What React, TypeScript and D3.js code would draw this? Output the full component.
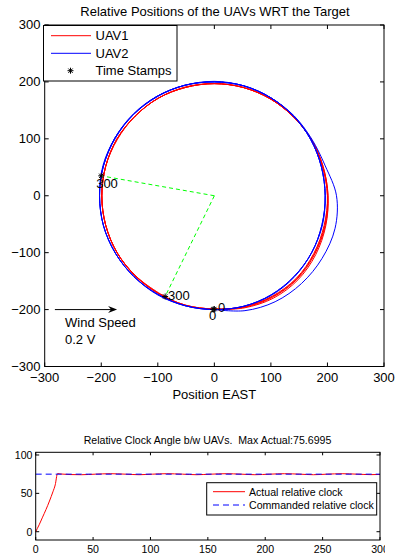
import { useEffect, useRef } from "react";
import * as d3 from "d3";

const FONT = "'Liberation Sans', Arial, Helvetica, sans-serif";

// ---- top panel: trajectories as [angle deg, radius] per lap
const ANGLES = [-90,-75,-60,-45,-30,-15,0,15,30,45,60,75,90,105,120,135,150,165,180,195,210,225,240,255];

const UAV1_LAPS = [
  [200,204,208,209,207,204,201,199,198,197,197,197,197,197,198,198,198,199,199,199,199,199,198,199],
  [199,203,206,207,205,203,201,199,198,197,197,197,197,198,198,198,199,199,199,199,199,198,198,199],
  [199,202,205,206,204,202,200,198,198,197,197,197,197,197,198,198,199,199,199,199,199,198,198,199],
  [199,202,204,205,203,201,200,198,198,197,197,197,197,197,198,198,199,199,199,199,199,198,197],
];
const UAV1_END: [number, number] = [243.8, 197];

const UAV2_LAPS = [
  [200,209,215,218,220,221,216,203,199,199,199,200,200,201,201,202,202,203,203,203,202,201,200,200],
  [200,201,201,200,199,197,196,196,197,198,199,200,200,201,202,202,203,203,203,203,202,201,200,200],
  [200,201,202,201,199,198,196,196,197,198,199,200,201,201,202,203,203,204,203,203,202,201,201,200],
  [200,201,201,200,199,197,196,196,197,198,199,200,200,201,202,202,203,203],
];
const UAV2_END: [number, number] = [170.2, 203];

const STAMP_PTS: [number, number][] = [[-2, -199.6], [0, -199], [-87, -177], [-200, 35]];
const STAMP_TEXT = ["0", "0", "300", "300"];
const STAMP_LABEL_PTS: [number, number][] = [[-9.5, -209.6], [6.5, -196.4], [-82, -174.5], [-209, 22]];
const SPOKES: [number, number][] = [[-87, -177], [-200, 35]];

const POS_TICKS = [-300, -200, -100, 0, 100, 200, 300];

// ---- bottom panel
const T_ACTUAL = [0,3,6,9,12,15,17,19,22,30,40,52,65,78,90,102,114,128,140,153,166,179,191,204,217,230,242,254,267,280,292,300];
const ACTUAL   = [0,9,19,29,40,52,61,75.7,75.2,74.5,74.3,75,75.6,75,74.3,75,75.6,75,74.3,75,75.6,75,74.3,75,75.6,75,74.3,75,75.6,75,74.4,74.6];
const T_CMD = [0, 300];
const CMD   = [75, 75];
const T_TICKS = [0, 50, 100, 150, 200, 250, 300];
const CLOCK_TICKS = [0, 50, 100];

const minus = (v: number) => String(v).replace("-", "\u2212");

function asterisk(s: number) {
  const d = s * 0.72;
  return `M${-s},0L${s},0M0,${-s}L0,${s}M${-d},${-d}L${d},${d}M${-d},${d}L${d},${-d}`;
}

function lapsToPoints(laps: number[][], end: [number, number]) {
  const pts: [number, number][] = [];
  laps.forEach((radii, lap) => radii.forEach((r, i) => pts.push([ANGLES[i] + 360 * lap, r])));
  pts.push([end[0] + 360 * (laps.length - 1), end[1]]);
  return pts.map(([a, r]) => [r * Math.cos((a * Math.PI) / 180), r * Math.sin((a * Math.PI) / 180)] as [number, number]);
}

export default function App() {
  const svgRef = useRef<SVGSVGElement>(null);

  useEffect(() => {
    if (!svgRef.current) return;
    const svg = d3.select(svgRef.current);
    svg.selectAll("*").remove();

    // ================= top panel =================
    const x = d3.scaleLinear().domain([-300, 300]).range([44.7, 384]);
    const y = d3.scaleLinear().domain([-300, 300]).range([366.5, 25]);
    const top = svg.append("g");
    const FS = "13px";

    top.append("text").attr("x", 215).attr("y", 16.3).attr("text-anchor", "middle")
      .attr("font-size", FS).attr("font-family", FONT).text("Relative Positions of the UAVs WRT the Target");

    // ticks (inside, mirrored)
    const tk = top.append("g").attr("stroke", "#000").attr("stroke-width", 1);
    POS_TICKS.forEach(v => {
      tk.append("line").attr("x1", x(v)).attr("x2", x(v)).attr("y1", 366.5).attr("y2", 362.5);
      tk.append("line").attr("x1", x(v)).attr("x2", x(v)).attr("y1", 25).attr("y2", 29);
      tk.append("line").attr("y1", y(v)).attr("y2", y(v)).attr("x1", 44.7).attr("x2", 48.7);
      tk.append("line").attr("y1", y(v)).attr("y2", y(v)).attr("x1", 384).attr("x2", 380);
    });
    top.selectAll(".xl").data(POS_TICKS).join("text")
      .attr("x", d => x(d)).attr("y", 382.3).attr("text-anchor", "middle")
      .attr("font-size", FS).attr("font-family", FONT).text(d => minus(d));
    top.selectAll(".yl").data(POS_TICKS).join("text")
      .attr("x", 40.5).attr("y", d => y(d) + 4.4).attr("text-anchor", "end")
      .attr("font-size", FS).attr("font-family", FONT).text(d => minus(d));
    top.append("text").attr("x", 214.3).attr("y", 398.5).attr("text-anchor", "middle")
      .attr("font-size", FS).attr("font-family", FONT).text("Position EAST");

    const plot = top.append("g");
    const line = d3.line<[number, number]>().x(d => x(d[0])).y(d => y(d[1])).curve(d3.curveCatmullRom.alpha(0.5));

    // green spokes
    SPOKES.forEach(p => {
      plot.append("path").attr("d", line([[0, 0], p])).attr("fill", "none")
        .attr("stroke", "#00ff00").attr("stroke-width", 1).attr("stroke-dasharray", "4,3");
    });

    plot.append("path").attr("d", line(lapsToPoints(UAV1_LAPS, UAV1_END))).attr("fill", "none")
      .attr("stroke", "#ff0000").attr("stroke-width", 1);
    plot.append("path").attr("d", line(lapsToPoints(UAV2_LAPS, UAV2_END))).attr("fill", "none")
      .attr("stroke", "#0000ff").attr("stroke-width", 1);

    STAMP_PTS.forEach(p => {
      plot.append("path").attr("d", asterisk(3)).attr("transform", `translate(${x(p[0])},${y(p[1])})`)
        .attr("stroke", "#000").attr("stroke-width", 1).attr("fill", "none");
    });
    STAMP_LABEL_PTS.forEach((p, i) => {
      plot.append("text").attr("x", x(p[0])).attr("y", y(p[1]) + 4.6)
        .attr("font-size", FS).attr("font-family", FONT).attr("fill", "#000").text(STAMP_TEXT[i]);
    });

    // wind arrow
    const ay = y(-200);
    plot.append("line").attr("x1", x(-282)).attr("x2", x(-176)).attr("y1", ay).attr("y2", ay)
      .attr("stroke", "#000").attr("stroke-width", 1);
    const ax = x(-172);
    plot.append("path").attr("d", `M${ax},${ay}L${ax - 9},${ay - 3.5}L${ax - 6},${ay}L${ax - 9},${ay + 3.5}Z`).attr("fill", "#000");
    plot.append("text").attr("x", 65).attr("y", 327.3).attr("font-size", FS).attr("font-family", FONT).text("Wind Speed");
    plot.append("text").attr("x", 65).attr("y", 343.8).attr("font-size", FS).attr("font-family", FONT).text("0.2 V");

    top.append("rect").attr("x", 44.7).attr("y", 25).attr("width", 384 - 44.7).attr("height", 366.5 - 25)
      .attr("fill", "none").attr("stroke", "#000").attr("stroke-width", 1);

    // legend
    const lg = top.append("g");
    lg.append("rect").attr("x", 43.5).attr("y", 25.5).attr("width", 133.5).attr("height", 55.5)
      .attr("fill", "#fff").attr("stroke", "#000").attr("stroke-width", 1);
    lg.append("line").attr("x1", 51).attr("x2", 91).attr("y1", 35.7).attr("y2", 35.7).attr("stroke", "#ff0000");
    lg.append("line").attr("x1", 51).attr("x2", 91).attr("y1", 53.3).attr("y2", 53.3).attr("stroke", "#0000ff");
    lg.append("path").attr("d", asterisk(3)).attr("transform", "translate(70.5,70.7)").attr("stroke", "#000").attr("fill", "none");
    [["UAV1", 35.7], ["UAV2", 53.3], ["Time Stamps", 70.7]].forEach(([t, yy]) => {
      lg.append("text").attr("x", 95.5).attr("y", (yy as number) + 4.6).attr("font-size", FS)
        .attr("font-family", FONT).text(t as string);
    });

    // ================= bottom panel =================
    const xb = d3.scaleLinear().domain([0, 300]).range([35.7, 380]);
    const yb = d3.scaleLinear().domain([-10.8, 103.5]).range([540, 452.3]);
    const bot = svg.append("g");
    const FB = "10.6px";

    bot.append("text").attr("x", 207.5).attr("y", 443.8).attr("text-anchor", "middle")
      .attr("font-size", FB).attr("font-family", FONT)
      .attr("xml:space", "preserve").style("white-space", "pre")
      .text("Relative Clock Angle b/w UAVs.  Max Actual:75.6995");

    const tb = bot.append("g").attr("stroke", "#000").attr("stroke-width", 1);
    T_TICKS.forEach(v => {
      tb.append("line").attr("x1", xb(v)).attr("x2", xb(v)).attr("y1", 540).attr("y2", 537);
      tb.append("line").attr("x1", xb(v)).attr("x2", xb(v)).attr("y1", 452.3).attr("y2", 455.3);
    });
    CLOCK_TICKS.forEach(v => {
      tb.append("line").attr("y1", yb(v)).attr("y2", yb(v)).attr("x1", 35.7).attr("x2", 39.2);
      tb.append("line").attr("y1", yb(v)).attr("y2", yb(v)).attr("x1", 380).attr("x2", 376.5);
    });

    svg.append("defs").append("clipPath").attr("id", "cutr").append("rect")
      .attr("x", 0).attr("y", 540).attr("width", 385).attr("height", 20);
    bot.append("g").attr("clip-path", "url(#cutr)").selectAll("text").data(T_TICKS).join("text")
      .attr("x", d => xb(d)).attr("y", 553).attr("text-anchor", "middle")
      .attr("font-size", FB).attr("font-family", FONT).text(d => String(d));
    bot.selectAll(".cy").data(CLOCK_TICKS).join("text")
      .attr("x", 32.5).attr("y", d => yb(d) + 3.8).attr("text-anchor", "end")
      .attr("font-size", FB).attr("font-family", FONT).text(d => String(d));

    const actPts = T_ACTUAL.map((t, i) => [xb(t), yb(ACTUAL[i])] as [number, number]);
    const cmdPts = T_CMD.map((t, i) => [xb(t), yb(CMD[i])] as [number, number]);
    bot.append("path").attr("d", d3.line().curve(d3.curveMonotoneX)(actPts)).attr("fill", "none")
      .attr("stroke", "#ff0000").attr("stroke-width", 1);
    bot.append("path").attr("d", d3.line()(cmdPts)).attr("fill", "none")
      .attr("stroke", "#0000ff").attr("stroke-width", 1).attr("stroke-dasharray", "6,4");

    bot.append("rect").attr("x", 35.7).attr("y", 452.3).attr("width", 380 - 35.7).attr("height", 540 - 452.3)
      .attr("fill", "none").attr("stroke", "#000").attr("stroke-width", 1);

    const lb = bot.append("g");
    lb.append("rect").attr("x", 206.7).attr("y", 482.7).attr("width", 170).attr("height", 32.3)
      .attr("fill", "#fff").attr("stroke", "#000").attr("stroke-width", 1);
    lb.append("line").attr("x1", 213).attr("x2", 245).attr("y1", 491.7).attr("y2", 491.7).attr("stroke", "#ff0000");
    lb.append("line").attr("x1", 213).attr("x2", 245).attr("y1", 505).attr("y2", 505).attr("stroke", "#0000ff")
      .attr("stroke-dasharray", "6,4");
    lb.append("text").attr("x", 249).attr("y", 495.5).attr("font-size", FB).attr("font-family", FONT).text("Actual relative clock");
    lb.append("text").attr("x", 249).attr("y", 508.8).attr("font-size", FB).attr("font-family", FONT).text("Commanded relative clock");
  }, []);

  return (
    <svg ref={svgRef} width={397} height={558}
      style={{ position: "absolute", left: 0, top: 0, background: "#fff" }} />
  );
}
